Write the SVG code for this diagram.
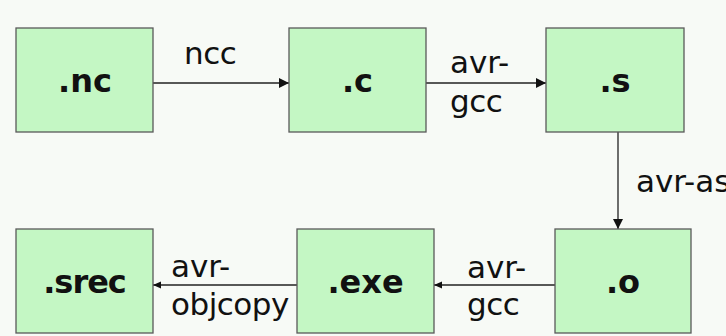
<svg xmlns="http://www.w3.org/2000/svg" width="726" height="336" viewBox="0 0 726 336">
<style>
.bg{fill:#f7faf6}
.box{fill:#c4f7c4;stroke:#5a5a5a;stroke-width:1.3}
.name{font-family:"DejaVu Sans",Verdana,sans-serif;font-weight:bold;font-size:32px;fill:#111;text-anchor:middle}
.lbl{font-family:"DejaVu Sans",Verdana,sans-serif;font-size:31px;fill:#111}
.edge{stroke:#222;stroke-width:1.3;fill:none}
</style>
<defs>
<marker id="big" markerUnits="userSpaceOnUse" markerWidth="11" markerHeight="11" refX="10" refY="5" orient="auto">
<path d="M0,0 L10,5 L0,10 Z" fill="#111"/>
</marker>
<marker id="small" markerUnits="userSpaceOnUse" markerWidth="9" markerHeight="8" refX="8" refY="3.5" orient="auto">
<path d="M0,0 L8,3.5 L0,7 Z" fill="#111"/>
</marker>
</defs>
<rect class="bg" x="0" y="0" width="726" height="336"/>
<g id="connectors">
<line class="edge" x1="153" y1="83" x2="289" y2="83" marker-end="url(#big)"/>
<line class="edge" x1="426" y1="83" x2="546" y2="83" marker-end="url(#big)"/>
<line class="edge" x1="618" y1="132" x2="618" y2="229" marker-end="url(#big)"/>
<line class="edge" x1="555" y1="285" x2="434" y2="285" marker-end="url(#small)"/>
<line class="edge" x1="297" y1="285" x2="153" y2="285" marker-end="url(#small)"/>
<text class="lbl" x="184" y="64" letter-spacing="-0.5">ncc</text>
<text class="lbl" x="450" y="73">avr-</text>
<text class="lbl" x="450" y="112" letter-spacing="-0.5">gcc</text>
<text class="lbl" x="636" y="192">avr-as</text>
<text class="lbl" x="467" y="278">avr-</text>
<text class="lbl" x="467" y="315" letter-spacing="-0.5">gcc</text>
<text class="lbl" x="171" y="277">avr-</text>
<text class="lbl" x="171" y="315" letter-spacing="-0.5">objcopy</text>
</g>
<g id="node-nc"><rect class="box" x="16" y="28" width="137" height="104"/><text class="name" x="85" y="92">.nc</text></g>
<g id="node-c"><rect class="box" x="289" y="28" width="137" height="104"/><text class="name" x="357.5" y="92">.c</text></g>
<g id="node-s"><rect class="box" x="546" y="28" width="138" height="104"/><text class="name" x="615" y="92">.s</text></g>
<g id="node-o"><rect class="box" x="555" y="229" width="136" height="104"/><text class="name" x="623" y="293">.o</text></g>
<g id="node-exe"><rect class="box" x="297" y="229" width="137" height="104"/><text class="name" x="365.5" y="293">.exe</text></g>
<g id="node-srec"><rect class="box" x="16" y="229" width="137" height="104"/><text class="name" x="84.5" y="293" letter-spacing="-1">.srec</text></g>
</svg>
